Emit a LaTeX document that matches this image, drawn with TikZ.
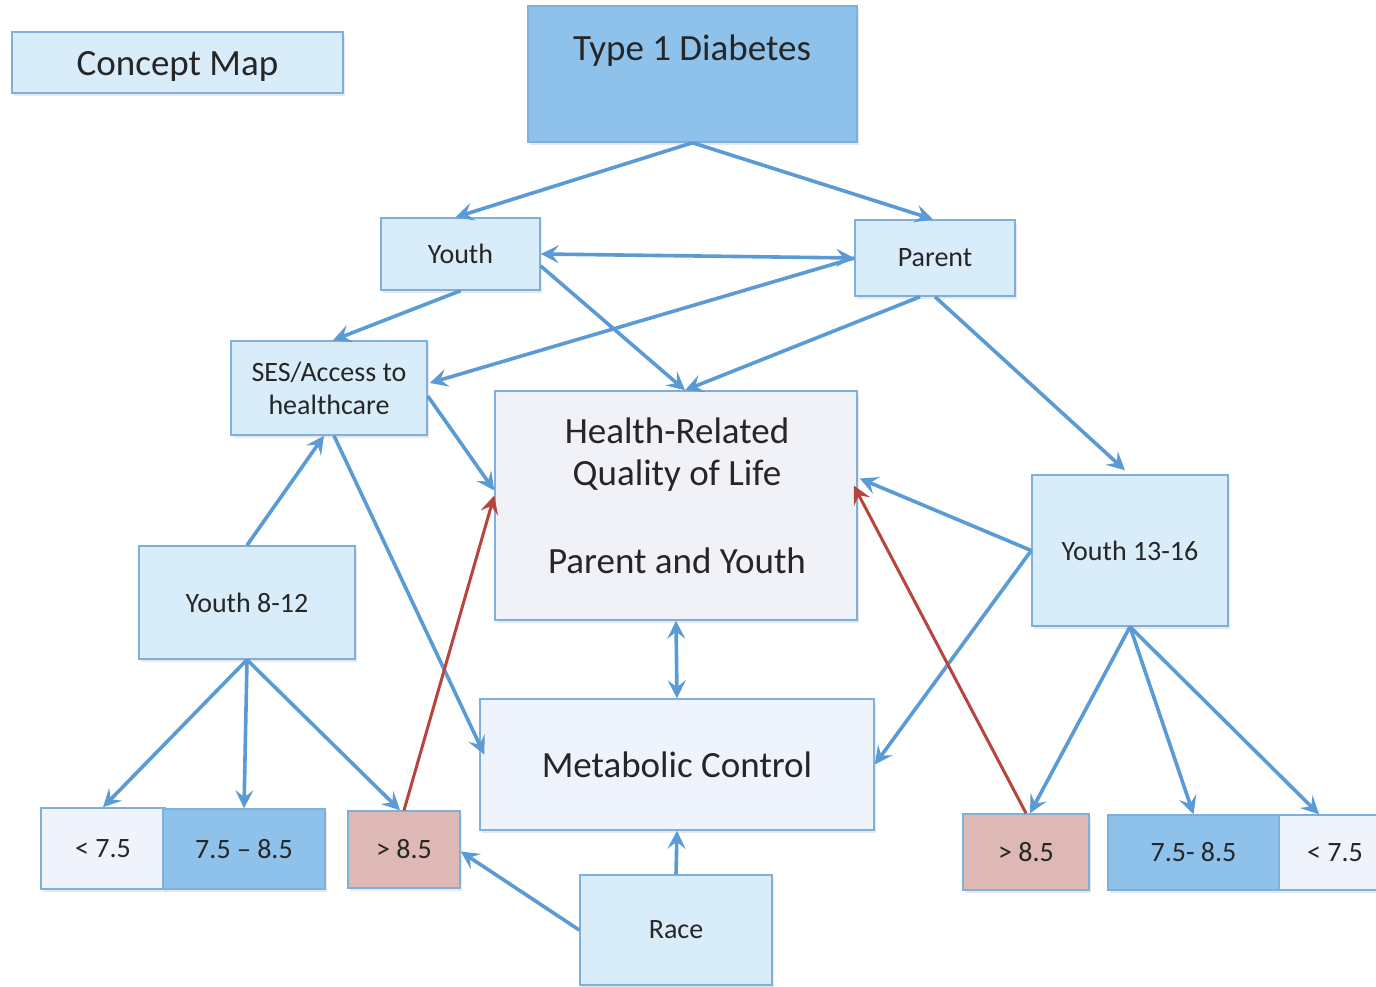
\documentclass[tikz,border=0pt]{standalone}
\usepackage{fontspec}
\setmainfont{Carlito}
\usetikzlibrary{arrows.meta,calc,shadows}
\definecolor{bordc}{HTML}{7FB0DC}
\definecolor{lightc}{HTML}{D8ECFA}
\definecolor{midc}{HTML}{8EC2EA}
\definecolor{pinkc}{HTML}{DDB8B5}
\definecolor{lavc}{HTML}{F1F1F8}
\definecolor{palec}{HTML}{EFF3FB}
\definecolor{arrc}{HTML}{5B9BD5}
\definecolor{redc}{HTML}{B8443E}
\definecolor{txtc}{HTML}{262626}
\begin{document}
\begin{tikzpicture}[x=1pt,y=-1pt,
  box/.style={draw=bordc,line width=1.5pt,fill=lightc,inner sep=0pt,align=center,
    text=txtc,font=\fontsize{28}{33}\selectfont,
    drop shadow={opacity=0.18,shadow xshift=2pt,shadow yshift=-3pt}},
  bigtext/.style={font=\fontsize{37}{42}\selectfont},
  conn/.style={draw=arrc,line width=3.6pt,-{Stealth[length=18pt,width=18pt,inset=7pt]}},
  dconn/.style={draw=arrc,line width=3.6pt,{Stealth[length=18pt,width=18pt,inset=7pt]}-{Stealth[length=18pt,width=18pt,inset=7pt]}},
  rconn/.style={draw=redc,line width=3pt,-{Stealth[length=18pt,width=18pt,inset=7pt]}}
]
\clip (0,0) rectangle (1376,987);
\fill[white] (0,0) rectangle (1376,987);
\useasboundingbox (0,0) rectangle (1376,987);

% nodes
\node[box,minimum width=331pt,minimum height=61pt] (cm) at (177.5,62.5) {};
\node[bigtext,text=txtc] (cmtext) at (177.5,66) {Concept Map};
\node[box,fill=midc,minimum width=329pt,minimum height=136pt] (t1d) at (692.5,74) {};
\node[bigtext,text=txtc] (t1dtext) at (692,51) {Type 1 Diabetes};
\node[box,minimum width=159pt,minimum height=72pt] (youth) at (460.5,254) {Youth};
\node[box,minimum width=160pt,minimum height=76pt] (parent) at (935,258) {Parent};
\node[box,minimum width=196pt,minimum height=94pt] (ses) at (329,388) {SES/Access to\\healthcare};
\node[box,fill=lavc,minimum width=362pt,minimum height=229pt] (hrq) at (676,505.5) {};
\node[bigtext,text=txtc,align=center] (hrqtext) at (677,496)
  {Health-Related\\Quality of Life\\[46pt]Parent and Youth};
\node[box,minimum width=196pt,minimum height=151pt] (y1316) at (1130,550.5) {Youth 13-16};
\node[box,minimum width=216pt,minimum height=113pt] (y812) at (247,602.5) {Youth 8-12};
\node[box,fill=palec,bigtext,minimum width=394pt,minimum height=131pt] (mc) at (677,764.5) {Metabolic Control};
\node[box,fill=palec,minimum width=124pt,minimum height=81pt] (la) at (103,848.5) {< 7.5};
\node[box,fill=midc,minimum width=162pt,minimum height=80pt] (lb) at (244,849) {7.5 – 8.5};
\node[box,fill=pinkc,minimum width=112pt,minimum height=77pt] (lc) at (404,849.5) {> 8.5};
\node[box,minimum width=192pt,minimum height=110pt] (race) at (676,930) {Race};
\node[box,fill=pinkc,minimum width=126pt,minimum height=76pt] (ra) at (1026,852) {> 8.5};
\node[box,fill=midc,minimum width=171pt,minimum height=75pt] (rb) at (1193.5,852.5) {7.5- 8.5};
\node[box,fill=palec,minimum width=112pt,minimum height=75pt] (rc) at (1335,852.5) {< 7.5};

% connectors
\draw[conn] (t1d.south) -- ($(youth.north)+(-5,0)$);
\draw[conn] (t1d.south) -- ($(parent.north)+(-2,0)$);
\draw[dconn] (youth.east) -- (parent.west);
\draw[conn] (parent.west) -- ($(ses.east)+(2,-5)$);
\draw[conn] (youth.south) -- ($(ses.north)+(4,0)$);
\draw[conn] ($(youth.east)+(0,12)$) -- ($(hrq.north)+(9,0)$);
\draw[conn] ($(parent.south)+(-15,0)$) -- ($(hrq.north)+(9,0)$);
\draw[conn] (parent.south) -- ($(y1316.north)+(-5,-4)$);
\draw[conn] ($(ses.east)+(0,8)$) -- ($(hrq.west)+(0,-15)$);
\draw[conn] (y812.north) -- ($(ses.south)+(-5,0)$);
\draw[conn] ($(ses.south)+(5,0)$) -- ($(mc.west)+(5,-10)$);
\draw[conn] (y1316.west) -- ($(hrq.east)+(2,-27)$);
\draw[conn] (y1316.west) -- (mc.east);
\draw[dconn] (hrq.south) -- (mc.north);
\draw[conn] (race.north) -- (mc.south);
\draw[conn] (race.west) -- ($(lc.east)+(0,2)$);
\draw[conn] (y812.south) -- (la.north);
\draw[conn] (y812.south) -- (lb.north);
\draw[conn] (y812.south) -- ($(lc.north)+(-4,0)$);
\draw[conn] (y1316.south) -- ($(ra.north)+(4,0)$);
\draw[conn] (y1316.south) -- (rb.north);
\draw[conn] (y1316.south) -- ($(rc.north)+(-16,0)$);
\draw[rconn] (lc.north) -- ($(hrq.west)+(0,-10)$);
\draw[rconn] (ra.north) -- ($(hrq.east)+(-4,-20)$);
\end{tikzpicture}
\end{document}
